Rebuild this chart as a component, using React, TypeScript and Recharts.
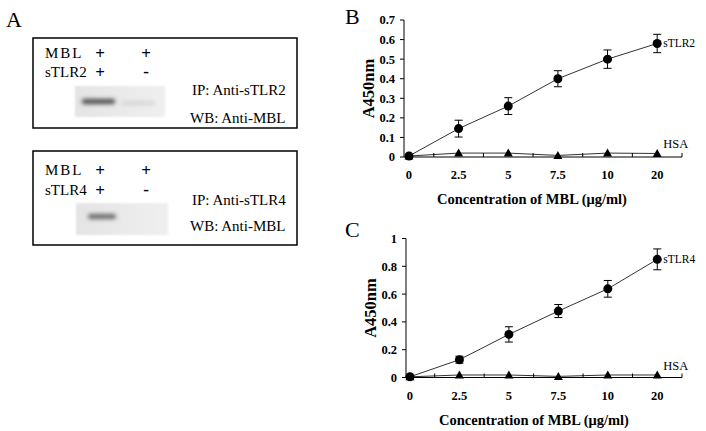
import React from "react";
import {
  LineChart,
  Line,
  XAxis,
  YAxis,
  ErrorBar,
  LabelList,
  Label,
} from "recharts";

// concentrations of MBL (µg/ml), one point per category
const concLabels = ["0", "2.5", "5", "7.5", "10", "20"];

// panel B
const tlr2Mean = [0.005, 0.145, 0.26, 0.4, 0.5, 0.58];
const tlr2Err = [0, 0.043, 0.043, 0.041, 0.047, 0.047];
const hsaB = [0.005, 0.02, 0.02, 0.008, 0.02, 0.018];
const yTicksB = [0, 0.1, 0.2, 0.3, 0.4, 0.5, 0.6, 0.7];

// panel C
const tlr4Mean = [0.005, 0.128, 0.31, 0.478, 0.638, 0.85];
const tlr4Err = [0, 0.025, 0.055, 0.047, 0.06, 0.075];
const hsaC = [0.005, 0.018, 0.018, 0.008, 0.018, 0.018];
const yTicksC = [0, 0.2, 0.4, 0.6, 0.8, 1];

// tick positions: labels on categories, tick marks between them
const xTicks = [0, 0.5, 1, 1.5, 2, 2.5, 3, 3.5, 4, 4.5, 5, 5.5];

const FONT = "'Times New Roman', 'Liberation Serif', serif";

const dataB = concLabels.map((c, i) => ({
  idx: i,
  conc: c,
  tlr: tlr2Mean[i],
  err: tlr2Err[i],
  hsa: hsaB[i],
}));

const dataC = concLabels.map((c, i) => ({
  idx: i,
  conc: c,
  tlr: tlr4Mean[i],
  err: tlr4Err[i],
  hsa: hsaC[i],
}));

const XTick = (props: any) => {
  const { x, y, payload } = props;
  const v = payload.value;
  if (Number.isInteger(v)) {
    return (
      <text
        x={x}
        y={y + 22}
        textAnchor="middle"
        fontFamily={FONT}
        fontWeight="bold"
        fontSize={12.5}
        fill="#000"
      >
        {concLabels[v]}
      </text>
    );
  }
  return <line x1={x} x2={x} y1={y} y2={y - 4} stroke="#000" strokeWidth={1} />;
};

const Triangle = (props: any) => {
  const { cx, cy } = props;
  if (cx == null || cy == null) return null;
  return (
    <polygon
      points={`${cx - 4.5},${cy + 3.5} ${cx + 4.5},${cy + 3.5} ${cx},${cy - 4.5}`}
      fill="#000"
    />
  );
};

const seriesLabel = (name: string, dy: number, size: number) => (p: any) => {
  if (p.index !== 5) return null;
  return (
    <text
      x={p.x + 6}
      y={p.y + dy}
      dominantBaseline="central"
      fontFamily={FONT}
      fontSize={size}
      fill="#000"
    >
      {name}
    </text>
  );
};

type PanelProps = {
  data: any[];
  top: number;
  height: number;
  marginTop: number;
  marginBottom: number;
  marginLeft: number;
  xDomain: [number, number];
  yMax: number;
  yTicks: number[];
  name: string;
};

function Panel({
  data,
  top,
  height,
  marginTop,
  marginBottom,
  marginLeft,
  xDomain,
  yMax,
  yTicks,
  name,
}: PanelProps) {
  return (
    <div style={{ position: "absolute", left: 340, top }}>
      <LineChart
        width={366}
        height={height}
        data={data}
        margin={{ top: marginTop, right: 24, left: marginLeft, bottom: marginBottom }}
      >
        <XAxis
          dataKey="idx"
          type="number"
          domain={xDomain}
          ticks={xTicks}
          interval={0}
          tickLine={false}
          tickSize={0}
          tickMargin={0}
          tick={<XTick />}
          height={30}
          stroke="#000"
        >
          <Label
            content={({ viewBox }: any) => (
              <text
                x={viewBox.x + 128}
                y={viewBox.y + 47}
                textAnchor="middle"
                fontFamily={FONT}
                fontWeight="bold"
                fontSize={14.5}
                fill="#000"
              >
                Concentration of MBL (μg/ml)
              </text>
            )}
          />
        </XAxis>
        <YAxis
          type="number"
          domain={[0, yMax]}
          ticks={yTicks}
          interval={0}
          width={40}
          tickSize={4}
          tickMargin={5}
          stroke="#000"
          tickFormatter={(v: number) => String(Number(v.toFixed(1)))}
          tick={{ fontFamily: FONT, fontWeight: "bold", fontSize: 12.5, fill: "#000" }}
        >
          <Label
            content={({ viewBox }: any) => (
              <text
                x={viewBox.x + 4}
                y={viewBox.y + viewBox.height / 2}
                transform={`rotate(-90 ${viewBox.x + 4} ${viewBox.y + viewBox.height / 2})`}
                textAnchor="middle"
                dominantBaseline="central"
                fontFamily={FONT}
                fontWeight="bold"
                fontSize={16.5}
                fill="#000"
              >
                A450nm
              </text>
            )}
          />
        </YAxis>
        <Line
          dataKey="hsa"
          stroke="#333"
          strokeWidth={1}
          dot={<Triangle />}
          isAnimationActive={false}
        >
          <LabelList dataKey="hsa" content={seriesLabel("HSA", -9, 12.5)} />
        </Line>
        <Line
          dataKey="tlr"
          stroke="#333"
          strokeWidth={1}
          dot={{ r: 4.5, fill: "#000", stroke: "#000", strokeWidth: 0 }}
          isAnimationActive={false}
        >
          <ErrorBar dataKey="err" width={4} stroke="#000" strokeWidth={1} />
          <LabelList dataKey="tlr" content={seriesLabel(name, 0, 11.5)} />
        </Line>
      </LineChart>
    </div>
  );
}

function PanelA() {
  const t = { fontFamily: FONT, fontSize: 15, fill: "#000" } as const;
  const plus = { fontFamily: FONT, fontSize: 17, fontWeight: "bold", fill: "#000", textAnchor: "middle" } as const;
  return (
    <svg width={706} height={431} style={{ position: "absolute", left: 0, top: 0 }}>
      <defs>
        <filter id="blur1" x="-50%" y="-200%" width="200%" height="500%">
          <feGaussianBlur stdDeviation="1.9" />
        </filter>
        <filter id="blur2" x="-20%" y="-20%" width="140%" height="140%">
          <feGaussianBlur stdDeviation="1" />
        </filter>
        <linearGradient id="blot" x1="0" x2="1" y1="0" y2="0">
          <stop offset="0" stopColor="#e4e4e4" />
          <stop offset="1" stopColor="#efefef" />
        </linearGradient>
      </defs>

      <text x={6} y={27} fontFamily={FONT} fontSize={22}>A</text>
      <text x={345} y={24} fontFamily={FONT} fontSize={22}>B</text>
      <text x={345} y={237} fontFamily={FONT} fontSize={22}>C</text>

      {/* box 1 */}
      <rect x={33} y={38} width={264} height={90} fill="none" stroke="#000" strokeWidth={1.5} />
      <text x={45} y={58} {...t} letterSpacing={2}>MBL</text>
      <text x={45} y={77} {...t}>sTLR2</text>
      <text x={100} y={59} {...plus}>+</text>
      <text x={146} y={59} {...plus}>+</text>
      <text x={100} y={78} {...plus}>+</text>
      <text x={146} y={77} {...plus}>-</text>
      <rect x={75} y={86} width={90} height={31} fill="url(#blot)" filter="url(#blur2)" />
      <rect x={82} y={99} width={33} height={5} rx={2} fill="#4a4a4a" filter="url(#blur1)" />
      <rect x={121} y={101} width={34} height={4} rx={2} fill="#d4d4d4" filter="url(#blur1)" />
      <text x={192} y={94.5} {...t}>IP: Anti-sTLR2</text>
      <text x={190} y={122.5} {...t}>WB: Anti-MBL</text>

      {/* box 2 */}
      <rect x={33} y={151} width={264} height={94} fill="none" stroke="#000" strokeWidth={1.5} />
      <text x={45} y={175} {...t} letterSpacing={2}>MBL</text>
      <text x={45} y={195} {...t}>sTLR4</text>
      <text x={100} y={176} {...plus}>+</text>
      <text x={146} y={176} {...plus}>+</text>
      <text x={100} y={196} {...plus}>+</text>
      <text x={146} y={195} {...plus}>-</text>
      <rect x={76} y={203} width={92} height={32} fill="url(#blot)" filter="url(#blur2)" />
      <rect x={88} y={214} width={28} height={5} rx={2} fill="#666" filter="url(#blur1)" />
      <text x={192} y={205} {...t}>IP: Anti-sTLR4</text>
      <text x={190} y={231} {...t}>WB: Anti-MBL</text>
    </svg>
  );
}

export default function App() {
  return (
    <div
      style={{
        position: "relative",
        width: 706,
        height: 431,
        background: "#fff",
        overflow: "hidden",
      }}
    >
      <style>{`body{margin:0}`}</style>
      <PanelA />
      <Panel
        data={dataB}
        top={0}
        height={215}
        marginTop={20}
        marginBottom={28}
        marginLeft={24}
        xDomain={[-0.1, 5.5]}
        yMax={0.7}
        yTicks={yTicksB}
        name="sTLR2"
      />
      <Panel
        data={dataC}
        top={215}
        height={216}
        marginTop={23.5}
        marginBottom={23.5}
        marginLeft={26}
        xDomain={[-0.08, 5.5]}
        yMax={1}
        yTicks={yTicksC}
        name="sTLR4"
      />
    </div>
  );
}
